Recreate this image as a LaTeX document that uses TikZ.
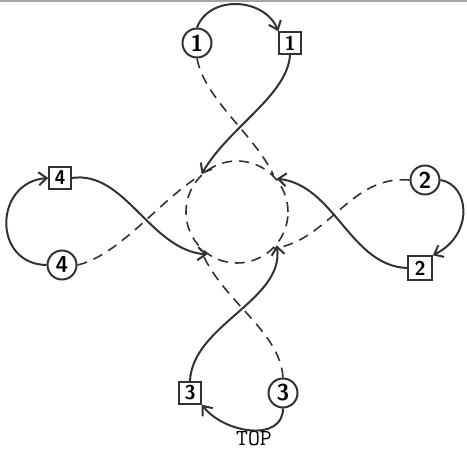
\documentclass[tikz,border=0pt]{standalone}
\usetikzlibrary{arrows.meta, positioning}
\definecolor{pencil}{RGB}{50,50,50}

\tikzset{
  stagecirc/.style={draw=pencil, circle, line width=2pt, minimum size=29pt, inner sep=0pt, font=\fontsize{23}{23}\sffamily\bfseries},
  stagebox/.style={draw=pencil, rectangle, line width=1.4pt, minimum size=22pt, inner sep=0pt, font=\fontsize{20}{20}\sffamily\bfseries},
  flow/.style={draw=pencil, line width=2pt, -{Straight Barb[length=8pt,width=13pt]}},
  ghost/.style={draw=pencil, line width=1.6pt, dash pattern=on 10pt off 7pt}
}

\begin{document}
\begin{tikzpicture}[x=1pt, y=-1pt]
  \useasboundingbox (0,0) rectangle (467,450);
  \draw[gray!70, line width=2pt] (0,1) -- (467,1);

  % stages, circle then box
  \node[stagecirc, name=c1] at (197,43) {1};
  \node[stagebox, name=s1] at (290,43) {1};
  \node[stagecirc, name=c2] at (425,180) {2};
  \node[stagebox, name=s2, minimum size=24pt] at (420,268) {2};
  \node[stagecirc, name=c3] at (283,393) {3};
  \node[stagebox, name=s3] at (190,393) {3};
  \node[stagecirc, name=c4] at (62,265) {4};
  \node[stagebox, name=s4] at (60,178) {4};

  \node[ghost, circle, minimum size=102pt, name=hub] at (237,212) {};
  \node[font=\fontsize{23}{23}\ttfamily, name=top] at (254,438) {TOP};

  % outer loops
  \draw[flow] (c1.north) .. controls (210,-6) and (265,-2) .. (s1.north west);
  \draw[flow] (c2.east) .. controls (470,185) and (474,235) .. (s2.north east);
  \draw[flow] (c3.south) .. controls (283,442) and (225,434) .. (s3.south east);
  \draw[flow] (c4.west) .. controls (-8,264) and (-6,182) .. (s4.west);

  % into the middle
  \draw[flow] (s1.south) .. controls (288,95) and (228,128) .. (hub.133);
  \draw[flow] (s2.west) .. controls (350,266) and (335,185) .. (hub.40);
  \draw[flow] (s3.north) .. controls (192,325) and (285,300) .. (hub.-40);
  \draw[flow] (s4.east) .. controls (125,170) and (150,250) .. (hub.235);

  \draw[ghost] (c1.south) .. controls (205,100) and (255,135) .. (hub.45);
  \draw[ghost] (c2.west) .. controls (350,175) and (330,240) .. (hub.-45);
  \draw[ghost] (c3.north) .. controls (280,330) and (220,300) .. (hub.225);
  \draw[ghost] (c4.east) .. controls (120,255) and (160,200) .. (hub.135);
\end{tikzpicture}
\end{document}
